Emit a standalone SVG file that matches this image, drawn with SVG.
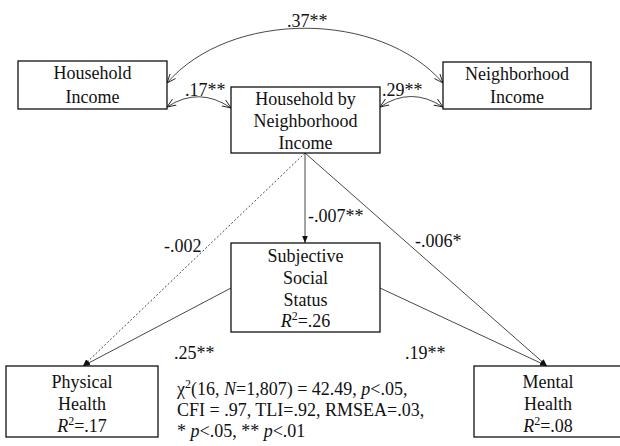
<svg xmlns="http://www.w3.org/2000/svg" width="620" height="446" viewBox="0 0 620 446">
<style>
text{font-family:"Liberation Serif","Times New Roman",serif;font-size:18px;fill:#111}
.c{text-anchor:middle}
.box{fill:#fff;stroke:#111;stroke-width:1.3}
.ln{fill:none;stroke:#333;stroke-width:0.9}
.i{font-style:italic}
</style>
<defs>
<marker id="open" viewBox="0 0 10 10" refX="10" refY="5" markerWidth="9" markerHeight="9" markerUnits="userSpaceOnUse" orient="auto-start-reverse">
<path d="M0,1 L10,5 L0,9" fill="none" stroke="#222" stroke-width="1"/>
</marker>
<marker id="solid" viewBox="0 0 10 10" refX="10" refY="5" markerWidth="7" markerHeight="7" markerUnits="userSpaceOnUse" orient="auto">
<path d="M0,1 L10,5 L0,9 z" fill="#111"/>
</marker>
</defs>
<rect width="620" height="446" fill="#fff"/>
<g id="connectors">
<path class="ln" d="M167,83 C230,10 380,10 443,83" marker-start="url(#open)" marker-end="url(#open)"/>
<path class="ln" d="M167,107 Q199,86 231,108" marker-start="url(#open)" marker-end="url(#open)"/>
<path class="ln" d="M380,107 Q411,86 443,107" marker-start="url(#open)" marker-end="url(#open)"/>
<path class="ln" d="M305,153 V243" marker-end="url(#solid)"/>
<path class="ln" d="M305,153 L83,366" stroke-dasharray="2,2" marker-end="url(#solid)"/>
<path class="ln" d="M305,153 L547,366" marker-end="url(#solid)"/>
<path class="ln" d="M231,288 L83,366" marker-end="url(#solid)"/>
<path class="ln" d="M380,288 L547,366" marker-end="url(#solid)"/>
<text x="287" y="27">.37**</text>
<text x="185" y="96">.17**</text>
<text x="382" y="96">.29**</text>
<text x="308" y="222">-.007**</text>
<text x="164" y="252">-.002</text>
<text x="415" y="247">-.006*</text>
<text x="174" y="359">.25**</text>
<text x="405" y="359">.19**</text>
</g>
<g id="household-income">
<rect class="box" x="18" y="61" width="149" height="48"/>
<text class="c" x="92.5" y="79">Household</text>
<text class="c" x="92.5" y="103">Income</text>
</g>
<g id="neighborhood-income">
<rect class="box" x="443" y="62" width="148" height="47"/>
<text class="c" x="517" y="80">Neighborhood</text>
<text class="c" x="517" y="103">Income</text>
</g>
<g id="household-by-neighborhood">
<rect class="box" x="231" y="87" width="149" height="66"/>
<text class="c" x="305.5" y="105">Household by</text>
<text class="c" x="305.5" y="127">Neighborhood</text>
<text class="c" x="305.5" y="149">Income</text>
</g>
<g id="subjective-social-status">
<rect class="box" x="231" y="243" width="149" height="89"/>
<text class="c" x="305.5" y="262">Subjective</text>
<text class="c" x="305.5" y="284">Social</text>
<text class="c" x="305.5" y="306">Status</text>
<text class="c" x="305.5" y="327"><tspan class="i">R</tspan><tspan font-size="12" dy="-7">2</tspan><tspan dy="7">=.26</tspan></text>
</g>
<g id="physical-health">
<rect class="box" x="6" y="366" width="152" height="71"/>
<text class="c" x="82" y="388">Physical</text>
<text class="c" x="82" y="410">Health</text>
<text class="c" x="82" y="432"><tspan class="i">R</tspan><tspan font-size="12" dy="-7">2</tspan><tspan dy="7">=.17</tspan></text>
</g>
<g id="mental-health">
<rect class="box" x="474" y="366" width="150" height="71"/>
<text class="c" x="548" y="388">Mental</text>
<text class="c" x="548" y="410">Health</text>
<text class="c" x="548" y="432"><tspan class="i">R</tspan><tspan font-size="12" dy="-7">2</tspan><tspan dy="7">=.08</tspan></text>
</g>
<g id="fit-statistics">
<text x="177" y="395">χ<tspan font-size="12" dy="-7">2</tspan><tspan dy="7">(16, </tspan><tspan class="i">N</tspan>=1,807) = 42.49, <tspan class="i">p</tspan>&lt;.05,</text>
<text x="177" y="416">CFI = .97, TLI=.92, RMSEA=.03,</text>
<text x="177" y="437">* <tspan class="i">p</tspan>&lt;.05, ** <tspan class="i">p</tspan>&lt;.01</text>
</g>
</svg>
